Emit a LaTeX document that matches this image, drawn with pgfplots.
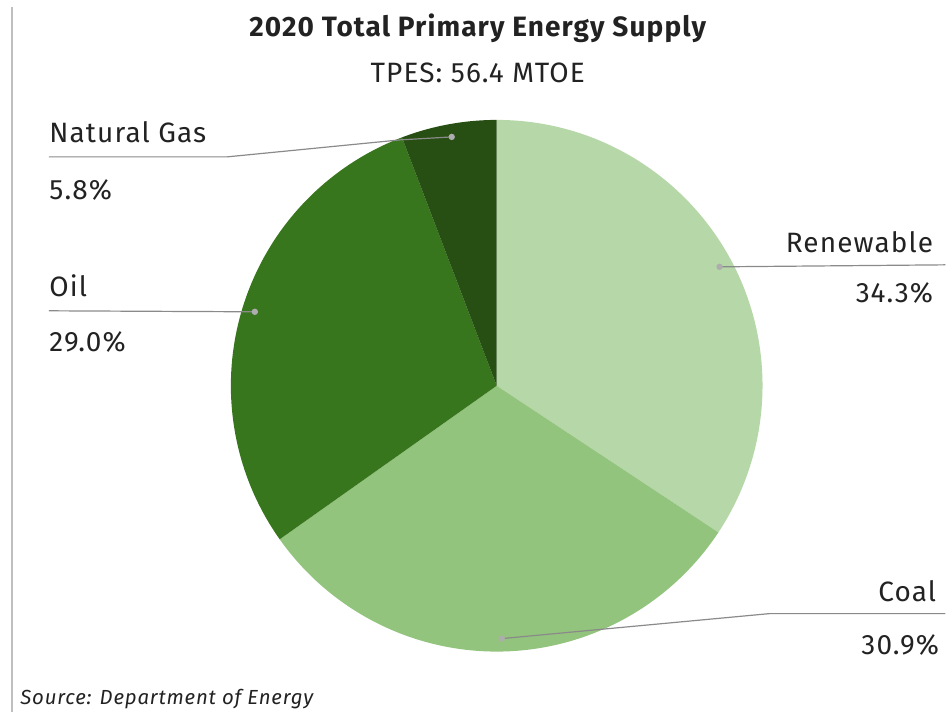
\documentclass[border=0pt]{standalone}
\usepackage{fontspec}
\setmainfont{Fira Sans}[LetterSpace=4]
\usepackage{pgfplots}
\usepackage{pgfplotstable}
\pgfplotsset{compat=1.18}
\definecolor{cRen}{HTML}{B6D7A8}
\definecolor{cCoal}{HTML}{93C47D}
\definecolor{cOil}{HTML}{38761D}
\definecolor{cGas}{HTML}{274E13}
\definecolor{lead}{HTML}{8A8A8A}
\definecolor{txt}{HTML}{222222}
\pgfplotstableread{
name pct
Renewable 34.3
Coal 30.9
Oil 29.0
NaturalGas 5.8
}\datatable
\tikzset{lbl/.style={inner sep=0pt, text=txt, font=\fontsize{14}{16}\selectfont}}
\begin{document}
\begin{tikzpicture}
\pgfplotstablegetelem{0}{pct}\of\datatable \let\pA\pgfplotsretval
\pgfplotstablegetelem{1}{pct}\of\datatable \let\pB\pgfplotsretval
\pgfplotstablegetelem{2}{pct}\of\datatable \let\pC\pgfplotsretval
\pgfplotstablegetelem{3}{pct}\of\datatable \let\pD\pgfplotsretval
\pgfmathsetmacro{\aA}{90-3.6*\pA}
\pgfmathsetmacro{\aB}{\aA-3.6*\pB}
\pgfmathsetmacro{\aC}{\aB-3.6*\pC}
\pgfmathsetmacro{\aD}{\aC-3.6*\pD}
\begin{axis}[
  x=0.5pt, y=0.5pt,
  xmin=0, xmax=946, ymin=0, ymax=712,
  axis lines=none, clip=false,
]
\path (axis cs:0,0) rectangle (axis cs:946,712);
% left border
\draw[color=black!25, line width=0.8pt] (axis cs:12,0) -- (axis cs:12,705);
% pie slices
\fill[cRen]  (axis cs:497,326) -- +(90:133pt)  arc[start angle=90,  end angle=\aA, radius=133pt] -- cycle;
\fill[cCoal] (axis cs:497,326) -- +(\aA:133pt) arc[start angle=\aA, end angle=\aB, radius=133pt] -- cycle;
\fill[cOil]  (axis cs:497,326) -- +(\aB:133pt) arc[start angle=\aB, end angle=\aC, radius=133pt] -- cycle;
\fill[cGas]  (axis cs:497,326) -- +(\aC:133pt) arc[start angle=\aC, end angle=\aD, radius=133pt] -- cycle;
% leader lines
\draw[lead, line width=0.6pt] (axis cs:49,555) -- (axis cs:227,555) -- (axis cs:400,572) -- (axis cs:452,575);
\fill[lead!70] (axis cs:452,575) circle[radius=1.6pt];
\draw[lead, line width=0.6pt] (axis cs:49,401) -- (axis cs:255,400);
\fill[lead!70] (axis cs:255,400) circle[radius=1.6pt];
\draw[lead, line width=0.6pt] (axis cs:720,445) -- (axis cs:946,447);
\fill[lead!70] (axis cs:720,445) circle[radius=1.6pt];
\draw[lead, line width=0.6pt] (axis cs:502,73) -- (axis cs:770,98) -- (axis cs:946,98);
\fill[lead!70] (axis cs:502,73) circle[radius=1.6pt];
% labels
\node[lbl, anchor=base west] at (axis cs:49,569) {Natural Gas};
\node[lbl, anchor=base west] at (axis cs:49,512) {5.8\%};
\node[lbl, anchor=base west] at (axis cs:49,415) {Oil};
\node[lbl, anchor=base west] at (axis cs:49,360) {29.0\%};
\node[lbl, anchor=base east] at (axis cs:934,459) {Renewable};
\node[lbl, anchor=base east] at (axis cs:934,409) {34.3\%};
\node[lbl, anchor=base east] at (axis cs:937,110) {Coal};
\node[lbl, anchor=base east] at (axis cs:940,57) {30.9\%};
% titles
\node[lbl, anchor=base, font=\fontsize{14}{16}\selectfont\bfseries] at (axis cs:478,675) {2020 Total Primary Energy Supply};
\node[lbl, anchor=base] at (axis cs:478,629) {TPES: 56.4 MTOE};
\node[lbl, anchor=base west, font=\fontsize{10.2}{12}\selectfont\itshape] at (axis cs:20,7) {Source: Department of Energy};
\end{axis}
\end{tikzpicture}
\end{document}
